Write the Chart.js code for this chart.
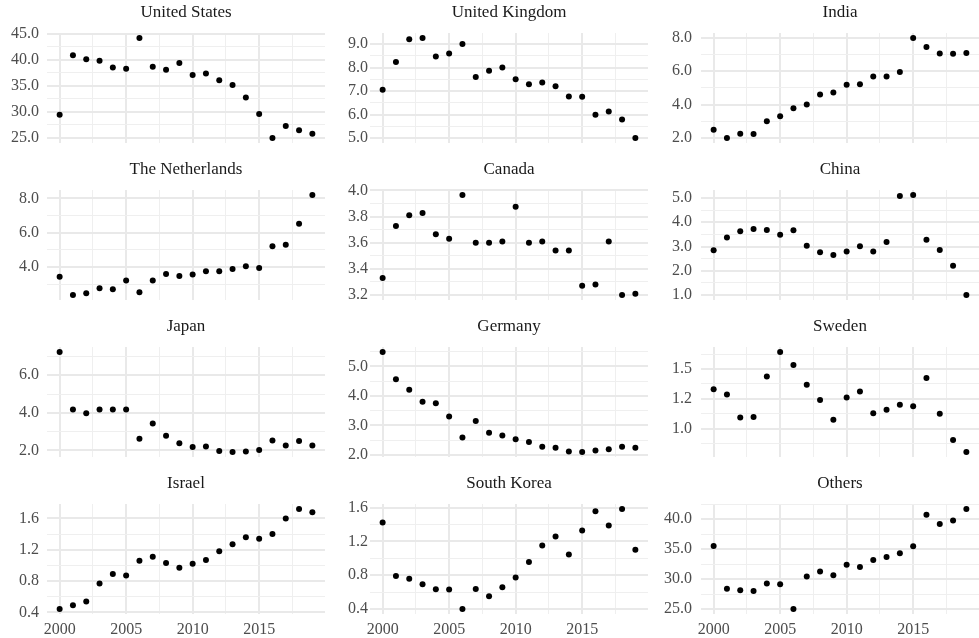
<!doctype html>
<html lang="en">
<head>
  <meta charset="utf-8">
  <title>Shares by country, 2000-2019</title>
  <style>
    * {
      margin: 0;
      padding: 0;
    }
    body {
      width: 979px;
      height: 638px;
      overflow: hidden;
      position: relative;
      background: white;
    }
    .panel {
      position: absolute;
    }
  </style>
</head>
<body>
<div id="facets"></div>

<script src="https://cdn.jsdelivr.net/npm/chart.js"></script>
<script>
  const years = [2000, 2001, 2002, 2003, 2004, 2005, 2006, 2007, 2008, 2009,
                 2010, 2011, 2012, 2013, 2014, 2015, 2016, 2017, 2018, 2019];

  const unitedStates = [29.45, 40.87, 40.1, 39.84, 38.55, 38.3, 44.2, 38.7, 38.1, 39.4,
                        37.1, 37.4, 36.1, 35.2, 32.8, 29.6, 25.0, 27.3, 26.5, 25.8];
  const unitedKingdom = [7.06, 8.24, 9.21, 9.26, 8.47, 8.6, 9.0, 7.6, 7.86, 8.0,
                         7.5, 7.29, 7.36, 7.2, 6.77, 6.76, 5.99, 6.13, 5.79, 5.0];
  const india = [2.5, 2.0, 2.26, 2.24, 3.0, 3.3, 3.78, 4.0, 4.6, 4.72,
                 5.18, 5.22, 5.68, 5.68, 5.94, 7.98, 7.44, 7.06, 7.04, 7.08];
  const netherlands = [3.43, 2.36, 2.46, 2.76, 2.7, 3.21, 2.52, 3.21, 3.59, 3.47,
                       3.55, 3.74, 3.74, 3.88, 4.04, 3.94, 5.2, 5.3, 6.52, 8.2];
  const canada = [3.33, 3.727, 3.81, 3.827, 3.664, 3.63, 3.965, 3.6, 3.6, 3.61,
                  3.875, 3.6, 3.61, 3.54, 3.54, 3.27, 3.28, 3.61, 3.2, 3.21];
  const china = [2.85, 3.375, 3.625, 3.72, 3.68, 3.49, 3.67, 3.03, 2.76, 2.65,
                 2.79, 3.01, 2.79, 3.19, 5.08, 5.125, 3.28, 2.86, 2.21, 1.0];
  const japan = [7.24, 4.18, 3.98, 4.18, 4.18, 4.18, 2.61, 3.43, 2.77, 2.38,
                 2.18, 2.2, 1.96, 1.91, 1.93, 2.02, 2.52, 2.25, 2.5, 2.25];
  const germany = [5.49, 4.57, 4.21, 3.8, 3.75, 3.3, 2.59, 3.15, 2.75, 2.66,
                   2.53, 2.44, 2.28, 2.24, 2.12, 2.1, 2.15, 2.19, 2.28, 2.24];
  const sweden = [1.331, 1.286, 1.093, 1.098, 1.438, 1.643, 1.534, 1.368, 1.24, 1.073,
                  1.261, 1.312, 1.129, 1.157, 1.2, 1.188, 1.424, 1.124, 0.904, 0.803];
  const israel = [0.443, 0.49, 0.54, 0.77, 0.89, 0.87, 1.06, 1.11, 1.03, 0.97,
                  1.02, 1.07, 1.18, 1.27, 1.36, 1.34, 1.40, 1.6, 1.72, 1.68];
  const southKorea = [1.425, 0.79, 0.758, 0.694, 0.635, 0.63, 0.4, 0.638, 0.551, 0.658,
                      0.774, 0.956, 1.151, 1.258, 1.044, 1.33, 1.556, 1.39, 1.584, 1.103];
  const others = [35.52, 28.36, 28.14, 28.02, 29.26, 29.14, 25.0, 30.43, 31.27, 30.65,
                  32.39, 32.0, 33.17, 33.68, 34.29, 35.47, 40.73, 39.16, 39.78, 41.68];

  const panelNames = ['United States', 'United Kingdom', 'India',
                      'The Netherlands', 'Canada', 'China',
                      'Japan', 'Germany', 'Sweden',
                      'Israel', 'South Korea', 'Others'];
  const panelSeries = [unitedStates, unitedKingdom, india,
                       netherlands, canada, china,
                       japan, germany, sweden,
                       israel, southKorea, others];
  // distance between labelled y ticks in each facet
  const yTickSteps = [5, 1, 2, 2, 0.2, 1, 2, 1, 0.25, 0.4, 0.4, 5];
  const xTickStep = 5;

  // layout of the facet grid (pixels)
  const colLeft = [0, 330, 655];
  const axisWidth = [47, 40, 46];
  const labelGap = [8, 2, 9];
  const rowTop = [0, 157, 314, 471];
  const plotW = 282;
  const plotH = 110;
  const titleH = 33;
  const xAxisH = 30;

  const gridMajor = '#e9e9e9';
  const gridMinor = '#efefef';
  const fontFamily = '"Liberation Serif", "Times New Roman", serif';

  // one decimal, ties to even like sprintf does ("1.25" -> "1.2")
  function fmt1(v) {
    const x = Math.round(v * 1000) / 100;
    let r = Math.floor(x);
    const frac = x - r;
    if (Math.abs(frac - 0.5) < 1e-6) {
      if (r % 2 !== 0) r += 1;
    } else if (frac > 0.5) {
      r += 1;
    }
    return (r / 10).toFixed(1);
  }

  function isMajor(v, step) {
    const k = v / step;
    return Math.abs(k - Math.round(k)) < 1e-6;
  }

  function expand(values) {
    const lo = Math.min(...values);
    const hi = Math.max(...values);
    const pad = (hi - lo) * 0.05;
    return [lo - pad, hi + pad];
  }

  const xRange = expand(years);
  const holder = document.getElementById('facets');

  panelNames.forEach((name, i) => {
    const col = i % 3;
    const row = Math.floor(i / 3);
    const bottomRow = row === 3;
    const series = panelSeries[i];
    const yStep = yTickSteps[i];
    const yRange = expand(series);

    const div = document.createElement('div');
    div.className = 'panel';
    div.style.left = colLeft[col] + 'px';
    div.style.top = rowTop[row] + 'px';
    const canvas = document.createElement('canvas');
    canvas.width = axisWidth[col] + plotW;
    canvas.height = titleH + plotH + xAxisH;
    div.appendChild(canvas);
    holder.appendChild(div);

    new Chart(canvas, {
      type: 'scatter',
      data: {
        datasets: [{
          label: name,
          data: years.map((yr, k) => ({x: yr, y: series[k]})),
          backgroundColor: '#000000',
          borderColor: '#000000',
          pointRadius: 3,
          pointBorderWidth: 0
        }]
      },
      options: {
        responsive: false,
        animation: false,
        events: [],
        layout: { padding: 0 },
        scales: {
          x: {
            type: 'linear',
            min: xRange[0],
            max: xRange[1],
            afterFit: (scale) => { scale.height = xAxisH; },
            border: { display: false },
            grid: {
              drawTicks: false,
              color: (ctx) => isMajor(ctx.tick.value, xTickStep) ? gridMajor : gridMinor,
              lineWidth: (ctx) => isMajor(ctx.tick.value, xTickStep) ? 2 : 1
            },
            ticks: {
              display: bottomRow,
              stepSize: xTickStep / 2,
              includeBounds: false,
              autoSkip: false,
              maxRotation: 0,
              padding: 6,
              color: '#4d4d4d',
              font: { family: fontFamily, size: 16 },
              callback: (v) => isMajor(v, xTickStep) ? String(v) : ''
            }
          },
          y: {
            min: yRange[0],
            max: yRange[1],
            afterFit: (scale) => { scale.width = axisWidth[col]; },
            border: { display: false },
            grid: {
              drawTicks: false,
              color: (ctx) => isMajor(ctx.tick.value, yStep) ? gridMajor : gridMinor,
              lineWidth: (ctx) => isMajor(ctx.tick.value, yStep) ? 2 : 1
            },
            ticks: {
              stepSize: yStep / 2,
              includeBounds: false,
              autoSkip: false,
              padding: labelGap[col],
              color: '#4d4d4d',
              font: { family: fontFamily, size: 16 },
              callback: (v) => isMajor(v, yStep) ? fmt1(v) : ''
            }
          }
        },
        plugins: {
          legend: { display: false },
          tooltip: { enabled: false },
          title: {
            display: true,
            text: name,
            fullSize: false,
            color: '#1a1a1a',
            font: { family: fontFamily, size: 17, weight: 'normal', lineHeight: 1.2 },
            padding: { top: 2.5, bottom: 10.1 }
          }
        }
      }
    });
  });
</script>
</body>
</html>
